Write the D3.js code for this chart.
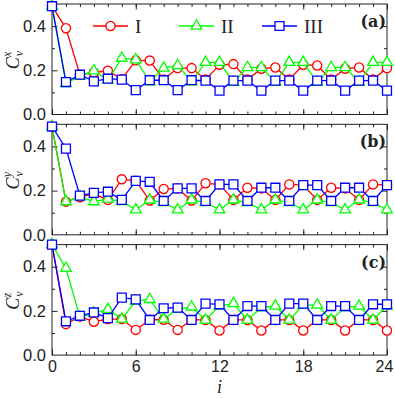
<!DOCTYPE html>
<html>
<head>
<meta charset="utf-8">
<script src="https://d3js.org/d3.v7.min.js"></script>
<style>
  body { margin: 0; background: #fff; }
</style>
</head>
<body>
<div id="chart"></div>
<script>
///////////////////////////////////////////////
// Data ///////////////////////////////////////
///////////////////////////////////////////////

var steps = [0, 1, 2, 3, 4, 5, 6, 7, 8, 9, 10, 11, 12, 13, 14, 15, 16, 17, 18, 19, 20, 21, 22, 23, 24];

// panel (a) C_v^x
var cxI   = [0.49, 0.39, 0.18, 0.19, 0.198, 0.16, 0.245, 0.244, 0.158, 0.21, 0.21, 0.158, 0.225, 0.228, 0.158, 0.207, 0.213, 0.158, 0.225, 0.222, 0.158, 0.207, 0.213, 0.158, 0.21];
var cxII  = [0.49, 0.14, 0.174, 0.198, 0.156, 0.255, 0.248, 0.148, 0.21, 0.222, 0.148, 0.236, 0.236, 0.146, 0.213, 0.213, 0.146, 0.236, 0.236, 0.146, 0.213, 0.213, 0.146, 0.236, 0.236];
var cxIII = [0.49, 0.147, 0.18, 0.15, 0.162, 0.158, 0.11, 0.155, 0.155, 0.11, 0.155, 0.153, 0.108, 0.153, 0.153, 0.108, 0.153, 0.153, 0.108, 0.153, 0.153, 0.108, 0.153, 0.153, 0.108];

// panel (b) C_v^y
var cyI   = [0.49, 0.15, 0.17, 0.185, 0.158, 0.251, 0.245, 0.155, 0.207, 0.21, 0.155, 0.233, 0.228, 0.158, 0.213, 0.21, 0.158, 0.228, 0.225, 0.158, 0.213, 0.21, 0.158, 0.228, 0.225];
var cyII  = [0.49, 0.15, 0.172, 0.15, 0.162, 0.151, 0.113, 0.158, 0.146, 0.113, 0.158, 0.146, 0.113, 0.158, 0.146, 0.113, 0.158, 0.146, 0.113, 0.158, 0.146, 0.113, 0.158, 0.146, 0.113];
var cyIII = [0.49, 0.39, 0.177, 0.19, 0.195, 0.158, 0.244, 0.24, 0.153, 0.21, 0.21, 0.153, 0.228, 0.228, 0.153, 0.213, 0.213, 0.153, 0.225, 0.225, 0.153, 0.213, 0.213, 0.153, 0.225];

// panel (c) C_v^z
var czI   = [0.5, 0.14, 0.175, 0.151, 0.163, 0.163, 0.114, 0.16, 0.16, 0.114, 0.159, 0.159, 0.111, 0.159, 0.159, 0.111, 0.159, 0.159, 0.111, 0.159, 0.159, 0.111, 0.159, 0.159, 0.111];
var czII  = [0.5, 0.393, 0.172, 0.19, 0.207, 0.163, 0.245, 0.252, 0.163, 0.208, 0.218, 0.159, 0.223, 0.233, 0.159, 0.215, 0.222, 0.159, 0.226, 0.227, 0.159, 0.215, 0.222, 0.159, 0.223];
var czIII = [0.5, 0.153, 0.178, 0.193, 0.167, 0.26, 0.252, 0.159, 0.212, 0.215, 0.159, 0.233, 0.23, 0.159, 0.222, 0.222, 0.159, 0.233, 0.233, 0.159, 0.222, 0.222, 0.159, 0.23, 0.23];

var seriesNames = ["I", "II", "III"];
var panelLabels = ["(a)", "(b)", "(c)"];
var panelAxes = ["x", "y", "z"];
var xTickLabels = [0, 6, 12, 18, 24];
var yTickLabels = [0.0, 0.2, 0.4];

var panels = [
  [cxI, cxII, cxIII],
  [cyI, cyII, cyIII],
  [czI, czII, czIII]
];

///////////////////////////////////////////////
// Graph parameters ///////////////////////////
///////////////////////////////////////////////

var W = 395, H = 398;
var left = 52, right = 387;
var panelTop = 4, panelH = 110.5, panelStep = 120.3;
var color = ["#ff0000", "#00ff00", "#0000ff"];
var ink = "#222";

var svg = d3.select("#chart").append("svg")
    .attr("width", W)
    .attr("height", H);

var x = d3.scaleLinear().domain([0, 24]).range([left, right]);

var symCircle = d3.symbol().type(d3.symbolCircle).size(Math.PI * 4.6 * 4.6),
    symTri = d3.symbol().type(d3.symbolTriangle).size(50),
    symSquare = d3.symbol().type(d3.symbolSquare).size(80);
var symbols = [symCircle, symTri, symSquare];

///////////////////////////////////////////////
// Panels /////////////////////////////////////
///////////////////////////////////////////////

panels.forEach(function(series, k) {
  var top = panelTop + k * panelStep;
  var y = d3.scaleLinear().domain([0, 0.5]).range([top + panelH, top]);
  var g = svg.append("g").attr("class", "panel");

  // inward ticks on all four sides
  var minorX = d3.range(0, 25, 1), majorX = d3.range(0, 25, 6);
  var minorY = [0.1, 0.3], majorY = [0.2, 0.4];
  function ticks(axis, vals, size, tx) {
    var a = g.append("g")
      .attr("transform", tx)
      .call(axis.tickValues(vals).tickSize(size).tickFormat(""));
    a.select(".domain").remove();
    a.selectAll(".tick line").attr("stroke", ink).attr("stroke-width", 1);
  }
  ticks(d3.axisBottom(x), minorX, -3, "translate(0," + (top + panelH) + ")");
  ticks(d3.axisBottom(x), majorX, -5.5, "translate(0," + (top + panelH) + ")");
  ticks(d3.axisTop(x), minorX, -3, "translate(0," + top + ")");
  ticks(d3.axisTop(x), majorX, -5.5, "translate(0," + top + ")");
  ticks(d3.axisLeft(y), minorY, -3, "translate(" + left + ",0)");
  ticks(d3.axisLeft(y), majorY, -5.5, "translate(" + left + ",0)");
  ticks(d3.axisRight(y), minorY, -3, "translate(" + right + ",0)");
  ticks(d3.axisRight(y), majorY, -5.5, "translate(" + right + ",0)");

  // y labels
  var yl = g.append("g")
    .attr("transform", "translate(" + left + ",0)")
    .call(d3.axisLeft(y).tickValues(yTickLabels).tickSize(0).tickPadding(6).tickFormat(d3.format(".1f")));
  yl.select(".domain").remove();
  yl.selectAll(".tick text")
    .style("font-family", "'Liberation Sans', Arial, sans-serif")
    .style("font-size", "16.5px")
    .style("fill", ink);

  // frame
  g.append("rect")
    .attr("x", left).attr("y", top)
    .attr("width", right - left).attr("height", panelH)
    .attr("fill", "none").attr("stroke", ink).attr("stroke-width", 1);

  // series
  series.forEach(function(vals, s) {
    var pts = steps.map(function(d, i) { return { i: d, v: vals[i] }; });
    var line = d3.line().x(function(d) { return x(d.i); }).y(function(d) { return y(d.v); });
    g.append("path")
      .datum(pts)
      .attr("fill", "none")
      .attr("stroke", color[s])
      .attr("stroke-width", 1.3)
      .attr("d", line);
    g.selectAll(".m" + s)
      .data(pts)
      .enter().append("path")
      .attr("class", "m" + s)
      .attr("transform", function(d) { return "translate(" + x(d.i) + "," + y(d.v) + ")"; })
      .attr("d", symbols[s]())
      .attr("fill", "#fff")
      .attr("stroke", color[s])
      .attr("stroke-width", 1.3);
  });

  // panel label
  g.append("text")
    .attr("x", right - 1).attr("y", top + 23)
    .attr("text-anchor", "end")
    .style("font-family", "'DejaVu Serif', 'Liberation Serif', serif")
    .style("font-weight", "bold")
    .style("font-size", "16px")
    .style("fill", ink)
    .text(panelLabels[k]);

  // y title C_v^x
  var t = g.append("text")
    .attr("transform", "translate(19," + (top + panelH / 2 + 10) + ") rotate(-90)")
    .style("font-family", "'Liberation Serif', 'Times New Roman', serif")
    .style("font-style", "italic")
    .style("fill", ink);
  t.append("tspan").style("font-size", "18px").text("C");
  t.append("tspan").style("font-size", "12px").attr("dx", 1).attr("dy", 4).text("v");
  t.append("tspan").style("font-size", "12px").attr("dx", -6).attr("dy", -12).text(panelAxes[k]);

  // x labels on the bottom panel
  if (k === panels.length - 1) {
    var xl = g.append("g")
      .attr("transform", "translate(0," + (top + panelH) + ")")
      .call(d3.axisBottom(x).tickValues(xTickLabels).tickSize(0).tickPadding(6).tickFormat(d3.format("d")));
    xl.select(".domain").remove();
    xl.selectAll(".tick text")
      .style("font-family", "'Liberation Sans', Arial, sans-serif")
      .style("font-size", "16px")
      .style("fill", ink)
      .attr("dx", function(d) { return d === 24 ? -3 : 0; });
    g.append("text")
      .attr("x", x(12)).attr("y", 393)
      .attr("text-anchor", "middle")
      .style("font-family", "'Liberation Serif', 'Times New Roman', serif")
      .style("font-style", "italic")
      .style("font-size", "18px")
      .style("fill", ink)
      .text("i");
  }
});

///////////////////////////////////////////////
// Legend /////////////////////////////////////
///////////////////////////////////////////////

var legendX = [93, 179, 262];
var legendY = 26;

var legend = svg.append("g")
    .attr("class", "legend")
    .selectAll("g")
    .data(seriesNames)
    .enter().append("g")
    .attr("transform", function(d, i) { return "translate(" + legendX[i] + "," + legendY + ")"; });

legend.append("line")
    .attr("x1", 0).attr("x2", 35)
    .attr("stroke", function(d, i) { return color[i]; })
    .attr("stroke-width", 1.3);

legend.append("path")
    .attr("transform", "translate(17.5,0)")
    .attr("d", function(d, i) { return symbols[i](); })
    .attr("fill", "#fff")
    .attr("stroke", function(d, i) { return color[i]; })
    .attr("stroke-width", 1.3);

legend.append("text")
    .attr("x", 42).attr("y", 6.5)
    .style("font-family", "'Liberation Serif', 'Times New Roman', serif")
    .style("font-size", "19px")
    .style("fill", ink)
    .text(function(d) { return d; });
</script>
</body>
</html>
